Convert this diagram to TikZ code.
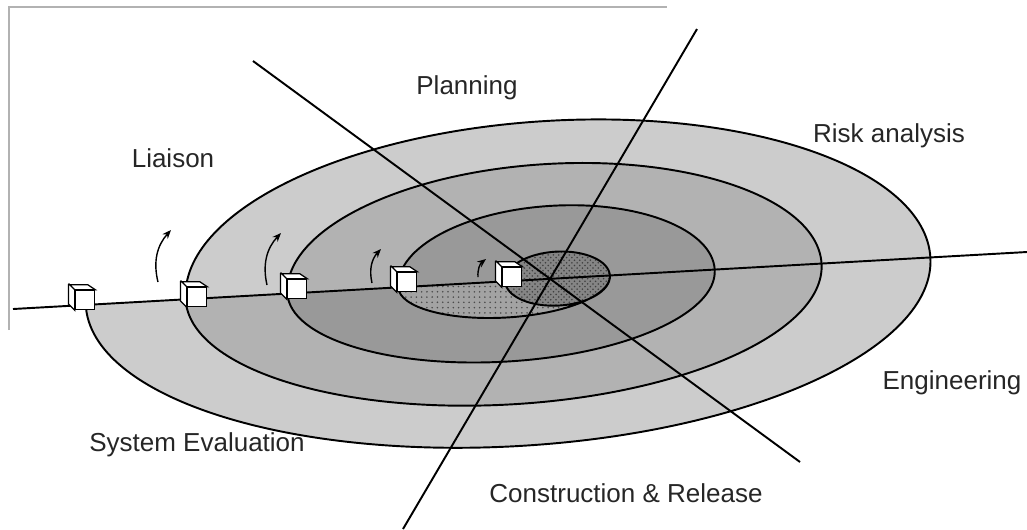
\documentclass[tikz,border=0pt]{standalone}
\usepackage{fontspec}
\setmainfont{Liberation Sans}
\usetikzlibrary{patterns,arrows.meta}
\definecolor{ringA}{gray}{0.80}
\definecolor{ringB}{gray}{0.70}
\definecolor{ringC}{gray}{0.60}
\definecolor{ringD}{gray}{0.64}
\definecolor{coreD}{gray}{0.52}

\begin{document}
\begin{tikzpicture}[x=0.02cm, y=0.02cm,
    rim/.style={line width=1.1pt},
    axis/.style={line width=1.1pt},
    phase/.style={font=\fontsize{14.8}{17}\selectfont, text=black!85},
    cube/.style={draw, line width=0.7pt, fill=white, minimum size=11pt, inner sep=0pt},
    facet/.style={draw, line width=0.7pt, fill=white},
    turn/.style={line width=0.8pt, -{Stealth[length=5pt,width=4pt]}}]
  \useasboundingbox (0,0) rectangle (1027,-529);
  \draw[black!30, line width=0.8pt] (9,-330) -- (9,-7) -- (667,-7);

  \begin{scope}[shift={(550,-279)}, rotate=3.2]
    \fill[ringA] (-465,0) arc[start angle=180, end angle=360, x radius=423, y radius=165]
      arc[start angle=0, end angle=180, x radius=373, y radius=158] -- cycle;
    \fill[ringB] (-365,0) arc[start angle=180, end angle=360, x radius=318.5, y radius=123]
      arc[start angle=0, end angle=180, x radius=267.5, y radius=115] -- cycle;
    \fill[ringC] (-263,0) arc[start angle=180, end angle=360, x radius=214, y radius=80]
      arc[start angle=0, end angle=180, x radius=158.5, y radius=73] -- cycle;
    \path[preaction={fill=ringD}, pattern=dots, pattern color=black!70]
      (-152,0) arc[start angle=180, end angle=360, x radius=106, y radius=36]
      arc[start angle=0, end angle=180, x radius=52.5, y radius=27] -- cycle;
    \path[preaction={fill=coreD}, pattern=crosshatch dots, pattern color=black!75]
      (-45,0) arc[start angle=180, end angle=540, x radius=52.5, y radius=27];

    \draw[rim] (-465,0)
      arc[start angle=180, end angle=360, x radius=423, y radius=165]
      arc[start angle=0, end angle=180, x radius=373, y radius=158]
      arc[start angle=180, end angle=360, x radius=318.5, y radius=123]
      arc[start angle=0, end angle=180, x radius=267.5, y radius=115]
      arc[start angle=180, end angle=360, x radius=214, y radius=80]
      arc[start angle=0, end angle=180, x radius=158.5, y radius=73]
      arc[start angle=180, end angle=360, x radius=106, y radius=36]
      arc[start angle=0, end angle=180, x radius=52.5, y radius=27]
      arc[start angle=180, end angle=360, x radius=52.5, y radius=27];
  \end{scope}

  \coordinate (a1) at (253,-61);
  \coordinate (a2) at (800,-462);
  \coordinate (b1) at (697,-29);
  \coordinate (b2) at (403,-529);
  \coordinate (c1) at (13,-309);
  \coordinate (c2) at (1027,-252);
  \draw[axis] (a1) -- (a2);
  \draw[axis] (b1) -- (b2);
  \draw[axis] (c1) -- (c2);

  \draw[turn] (158,-282) to[bend left=28] (171,-230);
  \draw[turn] (267,-285) to[bend left=28] (281,-233);
  \draw[turn] (372,-283) to[bend left=28] (381,-249);
  \draw[turn] (478,-277) to[bend left=28] (486,-259);

  \node[cube] (box1) at (85,-300) {};
  \node[cube] (box2) at (197,-297) {};
  \node[cube] (box3) at (297,-289) {};
  \node[cube] (box4) at (407,-282) {};
  \node[cube] (box5) at (512,-277) {};
  \foreach \b in {box1,box2,box3,box4,box5}
    \path[facet] (\b.south west) -- ++(-3.5pt,3.5pt) -- ++(0,11pt) -- ++(11pt,0)
      -- (\b.north east) -- (\b.north west) -- cycle (\b.north west) -- ++(-3.5pt,3.5pt);

  \node[phase] (plan) at (467,-88) {Planning};
  \node[phase] (liaison) at (173,-158) {Liaison};
  \node[phase] (risk) at (889,-136) {Risk analysis};
  \node[phase] (eng) at (952,-383) {Engineering};
  \node[phase] (eval) at (197,-445) {System Evaluation};
  \node[phase] (build) at (626,-493) {Construction \& Release};
\end{tikzpicture}
\end{document}
